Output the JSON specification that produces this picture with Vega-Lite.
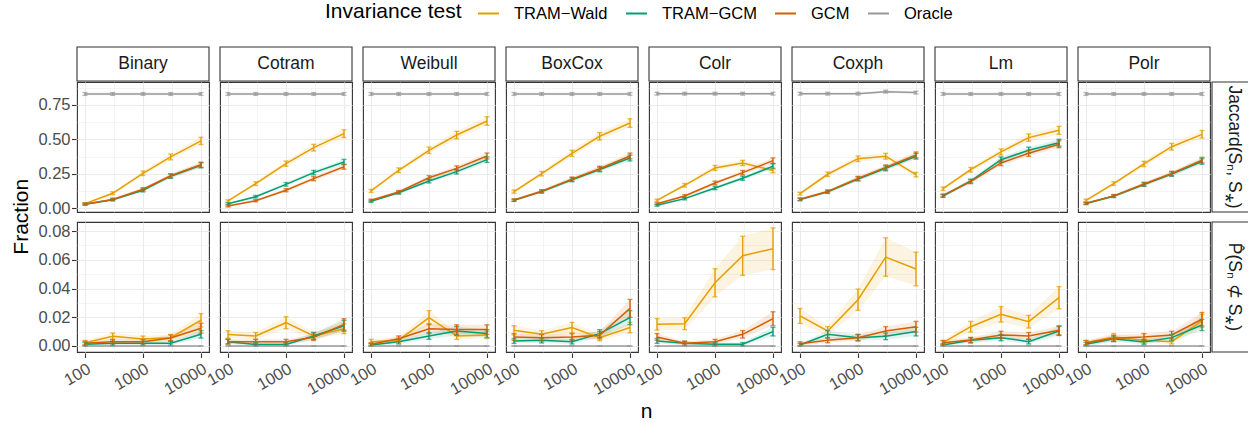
{
"$schema":"https://vega.github.io/schema/vega-lite/v6.json",
"background":"white",
"padding":{"left":10,"top":2,"right":4,"bottom":0},
"config":{
 "font":"Liberation Sans",
 "view":{"stroke":"#333333","strokeWidth":1.1},
 "axis":{"domain":false,"gridColor":"#EBEBEB","tickColor":"#333333","labelColor":"#4D4D4D","labelFont":"Liberation Sans","labelOverlap":false,"labelFlush":false,"tickSize":4.5,"tickWidth":1.1},
 "title":{"font":"Liberation Sans","fontWeight":"normal","color":"#000000"}
},
"datasets":{
"s":[{"m":"Binary"},{"m":"Cotram"},{"m":"Weibull"},{"m":"BoxCox"},{"m":"Colr"},{"m":"Coxph"},{"m":"Lm"},{"m":"Polr"}],
"d":[
{"m":"Binary","r":"J","t":"TRAM−Wald","n":100,"v":0.033,"lo":0.026,"hi":0.040},
{"m":"Binary","r":"J","t":"TRAM−Wald","n":300,"v":0.109,"lo":0.099,"hi":0.119},
{"m":"Binary","r":"J","t":"TRAM−Wald","n":1000,"v":0.254,"lo":0.238,"hi":0.270},
{"m":"Binary","r":"J","t":"TRAM−Wald","n":3000,"v":0.373,"lo":0.352,"hi":0.394},
{"m":"Binary","r":"J","t":"TRAM−Wald","n":10000,"v":0.489,"lo":0.463,"hi":0.515},
{"m":"Binary","r":"J","t":"TRAM−GCM","n":100,"v":0.030,"lo":0.023,"hi":0.037},
{"m":"Binary","r":"J","t":"TRAM−GCM","n":300,"v":0.062,"lo":0.054,"hi":0.071},
{"m":"Binary","r":"J","t":"TRAM−GCM","n":1000,"v":0.130,"lo":0.119,"hi":0.141},
{"m":"Binary","r":"J","t":"TRAM−GCM","n":3000,"v":0.233,"lo":0.218,"hi":0.248},
{"m":"Binary","r":"J","t":"TRAM−GCM","n":10000,"v":0.312,"lo":0.294,"hi":0.331},
{"m":"Binary","r":"J","t":"GCM","n":100,"v":0.030,"lo":0.023,"hi":0.037},
{"m":"Binary","r":"J","t":"GCM","n":300,"v":0.064,"lo":0.055,"hi":0.073},
{"m":"Binary","r":"J","t":"GCM","n":1000,"v":0.138,"lo":0.127,"hi":0.150},
{"m":"Binary","r":"J","t":"GCM","n":3000,"v":0.236,"lo":0.221,"hi":0.251},
{"m":"Binary","r":"J","t":"GCM","n":10000,"v":0.316,"lo":0.297,"hi":0.335},
{"m":"Binary","r":"J","t":"Oracle","n":100,"v":0.83,"lo":0.82,"hi":0.84},
{"m":"Binary","r":"J","t":"Oracle","n":300,"v":0.83,"lo":0.82,"hi":0.84},
{"m":"Binary","r":"J","t":"Oracle","n":1000,"v":0.83,"lo":0.82,"hi":0.84},
{"m":"Binary","r":"J","t":"Oracle","n":3000,"v":0.83,"lo":0.82,"hi":0.84},
{"m":"Binary","r":"J","t":"Oracle","n":10000,"v":0.83,"lo":0.82,"hi":0.84},
{"m":"Cotram","r":"J","t":"TRAM−Wald","n":100,"v":0.053,"lo":0.045,"hi":0.061},
{"m":"Cotram","r":"J","t":"TRAM−Wald","n":300,"v":0.179,"lo":0.166,"hi":0.192},
{"m":"Cotram","r":"J","t":"TRAM−Wald","n":1000,"v":0.324,"lo":0.305,"hi":0.343},
{"m":"Cotram","r":"J","t":"TRAM−Wald","n":3000,"v":0.440,"lo":0.416,"hi":0.464},
{"m":"Cotram","r":"J","t":"TRAM−Wald","n":10000,"v":0.542,"lo":0.514,"hi":0.570},
{"m":"Cotram","r":"J","t":"TRAM−GCM","n":100,"v":0.033,"lo":0.026,"hi":0.040},
{"m":"Cotram","r":"J","t":"TRAM−GCM","n":300,"v":0.084,"lo":0.075,"hi":0.093},
{"m":"Cotram","r":"J","t":"TRAM−GCM","n":1000,"v":0.174,"lo":0.161,"hi":0.187},
{"m":"Cotram","r":"J","t":"TRAM−GCM","n":3000,"v":0.259,"lo":0.243,"hi":0.275},
{"m":"Cotram","r":"J","t":"TRAM−GCM","n":10000,"v":0.336,"lo":0.317,"hi":0.355},
{"m":"Cotram","r":"J","t":"GCM","n":100,"v":0.017,"lo":0.010,"hi":0.024},
{"m":"Cotram","r":"J","t":"GCM","n":300,"v":0.055,"lo":0.047,"hi":0.063},
{"m":"Cotram","r":"J","t":"GCM","n":1000,"v":0.131,"lo":0.120,"hi":0.142},
{"m":"Cotram","r":"J","t":"GCM","n":3000,"v":0.215,"lo":0.200,"hi":0.230},
{"m":"Cotram","r":"J","t":"GCM","n":10000,"v":0.302,"lo":0.284,"hi":0.320},
{"m":"Cotram","r":"J","t":"Oracle","n":100,"v":0.83,"lo":0.82,"hi":0.84},
{"m":"Cotram","r":"J","t":"Oracle","n":300,"v":0.83,"lo":0.82,"hi":0.84},
{"m":"Cotram","r":"J","t":"Oracle","n":1000,"v":0.83,"lo":0.82,"hi":0.84},
{"m":"Cotram","r":"J","t":"Oracle","n":3000,"v":0.83,"lo":0.82,"hi":0.84},
{"m":"Cotram","r":"J","t":"Oracle","n":10000,"v":0.83,"lo":0.82,"hi":0.84},
{"m":"Weibull","r":"J","t":"TRAM−Wald","n":100,"v":0.126,"lo":0.115,"hi":0.137},
{"m":"Weibull","r":"J","t":"TRAM−Wald","n":300,"v":0.276,"lo":0.259,"hi":0.293},
{"m":"Weibull","r":"J","t":"TRAM−Wald","n":1000,"v":0.421,"lo":0.398,"hi":0.444},
{"m":"Weibull","r":"J","t":"TRAM−Wald","n":3000,"v":0.532,"lo":0.505,"hi":0.559},
{"m":"Weibull","r":"J","t":"TRAM−Wald","n":10000,"v":0.634,"lo":0.603,"hi":0.665},
{"m":"Weibull","r":"J","t":"TRAM−GCM","n":100,"v":0.051,"lo":0.043,"hi":0.059},
{"m":"Weibull","r":"J","t":"TRAM−GCM","n":300,"v":0.113,"lo":0.103,"hi":0.124},
{"m":"Weibull","r":"J","t":"TRAM−GCM","n":1000,"v":0.198,"lo":0.184,"hi":0.212},
{"m":"Weibull","r":"J","t":"TRAM−GCM","n":3000,"v":0.266,"lo":0.249,"hi":0.283},
{"m":"Weibull","r":"J","t":"TRAM−GCM","n":10000,"v":0.353,"lo":0.333,"hi":0.373},
{"m":"Weibull","r":"J","t":"GCM","n":100,"v":0.058,"lo":0.050,"hi":0.066},
{"m":"Weibull","r":"J","t":"GCM","n":300,"v":0.118,"lo":0.107,"hi":0.129},
{"m":"Weibull","r":"J","t":"GCM","n":1000,"v":0.222,"lo":0.207,"hi":0.237},
{"m":"Weibull","r":"J","t":"GCM","n":3000,"v":0.290,"lo":0.272,"hi":0.308},
{"m":"Weibull","r":"J","t":"GCM","n":10000,"v":0.380,"lo":0.359,"hi":0.401},
{"m":"Weibull","r":"J","t":"Oracle","n":100,"v":0.83,"lo":0.82,"hi":0.84},
{"m":"Weibull","r":"J","t":"Oracle","n":300,"v":0.83,"lo":0.82,"hi":0.84},
{"m":"Weibull","r":"J","t":"Oracle","n":1000,"v":0.83,"lo":0.82,"hi":0.84},
{"m":"Weibull","r":"J","t":"Oracle","n":3000,"v":0.83,"lo":0.82,"hi":0.84},
{"m":"Weibull","r":"J","t":"Oracle","n":10000,"v":0.83,"lo":0.82,"hi":0.84},
{"m":"BoxCox","r":"J","t":"TRAM−Wald","n":100,"v":0.121,"lo":0.110,"hi":0.132},
{"m":"BoxCox","r":"J","t":"TRAM−Wald","n":300,"v":0.251,"lo":0.235,"hi":0.267},
{"m":"BoxCox","r":"J","t":"TRAM−Wald","n":1000,"v":0.399,"lo":0.377,"hi":0.421},
{"m":"BoxCox","r":"J","t":"TRAM−Wald","n":3000,"v":0.523,"lo":0.496,"hi":0.550},
{"m":"BoxCox","r":"J","t":"TRAM−Wald","n":10000,"v":0.619,"lo":0.588,"hi":0.650},
{"m":"BoxCox","r":"J","t":"TRAM−GCM","n":100,"v":0.058,"lo":0.050,"hi":0.066},
{"m":"BoxCox","r":"J","t":"TRAM−GCM","n":300,"v":0.121,"lo":0.110,"hi":0.132},
{"m":"BoxCox","r":"J","t":"TRAM−GCM","n":1000,"v":0.207,"lo":0.193,"hi":0.221},
{"m":"BoxCox","r":"J","t":"TRAM−GCM","n":3000,"v":0.282,"lo":0.265,"hi":0.299},
{"m":"BoxCox","r":"J","t":"TRAM−GCM","n":10000,"v":0.365,"lo":0.344,"hi":0.386},
{"m":"BoxCox","r":"J","t":"GCM","n":100,"v":0.060,"lo":0.052,"hi":0.068},
{"m":"BoxCox","r":"J","t":"GCM","n":300,"v":0.124,"lo":0.113,"hi":0.135},
{"m":"BoxCox","r":"J","t":"GCM","n":1000,"v":0.212,"lo":0.198,"hi":0.227},
{"m":"BoxCox","r":"J","t":"GCM","n":3000,"v":0.287,"lo":0.270,"hi":0.305},
{"m":"BoxCox","r":"J","t":"GCM","n":10000,"v":0.380,"lo":0.359,"hi":0.401},
{"m":"BoxCox","r":"J","t":"Oracle","n":100,"v":0.83,"lo":0.82,"hi":0.84},
{"m":"BoxCox","r":"J","t":"Oracle","n":300,"v":0.83,"lo":0.82,"hi":0.84},
{"m":"BoxCox","r":"J","t":"Oracle","n":1000,"v":0.83,"lo":0.82,"hi":0.84},
{"m":"BoxCox","r":"J","t":"Oracle","n":3000,"v":0.83,"lo":0.82,"hi":0.84},
{"m":"BoxCox","r":"J","t":"Oracle","n":10000,"v":0.83,"lo":0.82,"hi":0.84},
{"m":"Colr","r":"J","t":"TRAM−Wald","n":100,"v":0.058,"lo":0.050,"hi":0.066},
{"m":"Colr","r":"J","t":"TRAM−Wald","n":300,"v":0.167,"lo":0.154,"hi":0.180},
{"m":"Colr","r":"J","t":"TRAM−Wald","n":1000,"v":0.293,"lo":0.275,"hi":0.311},
{"m":"Colr","r":"J","t":"TRAM−Wald","n":3000,"v":0.329,"lo":0.310,"hi":0.348},
{"m":"Colr","r":"J","t":"TRAM−Wald","n":10000,"v":0.275,"lo":0.258,"hi":0.292},
{"m":"Colr","r":"J","t":"TRAM−GCM","n":100,"v":0.022,"lo":0.015,"hi":0.029},
{"m":"Colr","r":"J","t":"TRAM−GCM","n":300,"v":0.070,"lo":0.061,"hi":0.079},
{"m":"Colr","r":"J","t":"TRAM−GCM","n":1000,"v":0.147,"lo":0.135,"hi":0.159},
{"m":"Colr","r":"J","t":"TRAM−GCM","n":3000,"v":0.218,"lo":0.203,"hi":0.233},
{"m":"Colr","r":"J","t":"TRAM−GCM","n":10000,"v":0.305,"lo":0.287,"hi":0.323},
{"m":"Colr","r":"J","t":"GCM","n":100,"v":0.033,"lo":0.026,"hi":0.040},
{"m":"Colr","r":"J","t":"GCM","n":300,"v":0.089,"lo":0.079,"hi":0.099},
{"m":"Colr","r":"J","t":"GCM","n":1000,"v":0.184,"lo":0.171,"hi":0.197},
{"m":"Colr","r":"J","t":"GCM","n":3000,"v":0.259,"lo":0.243,"hi":0.275},
{"m":"Colr","r":"J","t":"GCM","n":10000,"v":0.346,"lo":0.326,"hi":0.366},
{"m":"Colr","r":"J","t":"Oracle","n":100,"v":0.832,"lo":0.822,"hi":0.842},
{"m":"Colr","r":"J","t":"Oracle","n":300,"v":0.832,"lo":0.822,"hi":0.842},
{"m":"Colr","r":"J","t":"Oracle","n":1000,"v":0.832,"lo":0.822,"hi":0.842},
{"m":"Colr","r":"J","t":"Oracle","n":3000,"v":0.832,"lo":0.822,"hi":0.842},
{"m":"Colr","r":"J","t":"Oracle","n":10000,"v":0.832,"lo":0.822,"hi":0.842},
{"m":"Coxph","r":"J","t":"TRAM−Wald","n":100,"v":0.106,"lo":0.096,"hi":0.116},
{"m":"Coxph","r":"J","t":"TRAM−Wald","n":300,"v":0.247,"lo":0.231,"hi":0.263},
{"m":"Coxph","r":"J","t":"TRAM−Wald","n":1000,"v":0.360,"lo":0.340,"hi":0.380},
{"m":"Coxph","r":"J","t":"TRAM−Wald","n":3000,"v":0.378,"lo":0.357,"hi":0.399},
{"m":"Coxph","r":"J","t":"TRAM−Wald","n":10000,"v":0.244,"lo":0.228,"hi":0.260},
{"m":"Coxph","r":"J","t":"TRAM−GCM","n":100,"v":0.063,"lo":0.055,"hi":0.072},
{"m":"Coxph","r":"J","t":"TRAM−GCM","n":300,"v":0.119,"lo":0.108,"hi":0.130},
{"m":"Coxph","r":"J","t":"TRAM−GCM","n":1000,"v":0.213,"lo":0.199,"hi":0.228},
{"m":"Coxph","r":"J","t":"TRAM−GCM","n":3000,"v":0.290,"lo":0.272,"hi":0.308},
{"m":"Coxph","r":"J","t":"TRAM−GCM","n":10000,"v":0.378,"lo":0.357,"hi":0.399},
{"m":"Coxph","r":"J","t":"GCM","n":100,"v":0.066,"lo":0.057,"hi":0.075},
{"m":"Coxph","r":"J","t":"GCM","n":300,"v":0.122,"lo":0.111,"hi":0.133},
{"m":"Coxph","r":"J","t":"GCM","n":1000,"v":0.217,"lo":0.202,"hi":0.232},
{"m":"Coxph","r":"J","t":"GCM","n":3000,"v":0.297,"lo":0.279,"hi":0.315},
{"m":"Coxph","r":"J","t":"GCM","n":10000,"v":0.387,"lo":0.366,"hi":0.409},
{"m":"Coxph","r":"J","t":"Oracle","n":100,"v":0.832,"lo":0.822,"hi":0.842},
{"m":"Coxph","r":"J","t":"Oracle","n":300,"v":0.832,"lo":0.822,"hi":0.842},
{"m":"Coxph","r":"J","t":"Oracle","n":1000,"v":0.832,"lo":0.822,"hi":0.842},
{"m":"Coxph","r":"J","t":"Oracle","n":3000,"v":0.847,"lo":0.837,"hi":0.857},
{"m":"Coxph","r":"J","t":"Oracle","n":10000,"v":0.840,"lo":0.830,"hi":0.850},
{"m":"Lm","r":"J","t":"TRAM−Wald","n":100,"v":0.142,"lo":0.130,"hi":0.154},
{"m":"Lm","r":"J","t":"TRAM−Wald","n":300,"v":0.280,"lo":0.263,"hi":0.297},
{"m":"Lm","r":"J","t":"TRAM−Wald","n":1000,"v":0.409,"lo":0.387,"hi":0.431},
{"m":"Lm","r":"J","t":"TRAM−Wald","n":3000,"v":0.513,"lo":0.487,"hi":0.540},
{"m":"Lm","r":"J","t":"TRAM−Wald","n":10000,"v":0.566,"lo":0.537,"hi":0.595},
{"m":"Lm","r":"J","t":"TRAM−GCM","n":100,"v":0.089,"lo":0.079,"hi":0.099},
{"m":"Lm","r":"J","t":"TRAM−GCM","n":300,"v":0.198,"lo":0.184,"hi":0.212},
{"m":"Lm","r":"J","t":"TRAM−GCM","n":1000,"v":0.353,"lo":0.333,"hi":0.373},
{"m":"Lm","r":"J","t":"TRAM−GCM","n":3000,"v":0.421,"lo":0.398,"hi":0.444},
{"m":"Lm","r":"J","t":"TRAM−GCM","n":10000,"v":0.476,"lo":0.451,"hi":0.501},
{"m":"Lm","r":"J","t":"GCM","n":100,"v":0.094,"lo":0.084,"hi":0.104},
{"m":"Lm","r":"J","t":"GCM","n":300,"v":0.193,"lo":0.179,"hi":0.207},
{"m":"Lm","r":"J","t":"GCM","n":1000,"v":0.329,"lo":0.310,"hi":0.348},
{"m":"Lm","r":"J","t":"GCM","n":3000,"v":0.399,"lo":0.377,"hi":0.421},
{"m":"Lm","r":"J","t":"GCM","n":10000,"v":0.465,"lo":0.440,"hi":0.490},
{"m":"Lm","r":"J","t":"Oracle","n":100,"v":0.83,"lo":0.82,"hi":0.84},
{"m":"Lm","r":"J","t":"Oracle","n":300,"v":0.83,"lo":0.82,"hi":0.84},
{"m":"Lm","r":"J","t":"Oracle","n":1000,"v":0.83,"lo":0.82,"hi":0.84},
{"m":"Lm","r":"J","t":"Oracle","n":3000,"v":0.83,"lo":0.82,"hi":0.84},
{"m":"Lm","r":"J","t":"Oracle","n":10000,"v":0.83,"lo":0.82,"hi":0.84},
{"m":"Polr","r":"J","t":"TRAM−Wald","n":100,"v":0.058,"lo":0.050,"hi":0.066},
{"m":"Polr","r":"J","t":"TRAM−Wald","n":300,"v":0.179,"lo":0.166,"hi":0.192},
{"m":"Polr","r":"J","t":"TRAM−Wald","n":1000,"v":0.322,"lo":0.303,"hi":0.341},
{"m":"Polr","r":"J","t":"TRAM−Wald","n":3000,"v":0.447,"lo":0.423,"hi":0.471},
{"m":"Polr","r":"J","t":"TRAM−Wald","n":10000,"v":0.537,"lo":0.510,"hi":0.565},
{"m":"Polr","r":"J","t":"TRAM−GCM","n":100,"v":0.034,"lo":0.027,"hi":0.041},
{"m":"Polr","r":"J","t":"TRAM−GCM","n":300,"v":0.087,"lo":0.078,"hi":0.097},
{"m":"Polr","r":"J","t":"TRAM−GCM","n":1000,"v":0.172,"lo":0.159,"hi":0.185},
{"m":"Polr","r":"J","t":"TRAM−GCM","n":3000,"v":0.248,"lo":0.232,"hi":0.264},
{"m":"Polr","r":"J","t":"TRAM−GCM","n":10000,"v":0.340,"lo":0.320,"hi":0.360},
{"m":"Polr","r":"J","t":"GCM","n":100,"v":0.036,"lo":0.029,"hi":0.043},
{"m":"Polr","r":"J","t":"GCM","n":300,"v":0.090,"lo":0.080,"hi":0.100},
{"m":"Polr","r":"J","t":"GCM","n":1000,"v":0.176,"lo":0.163,"hi":0.189},
{"m":"Polr","r":"J","t":"GCM","n":3000,"v":0.253,"lo":0.237,"hi":0.269},
{"m":"Polr","r":"J","t":"GCM","n":10000,"v":0.350,"lo":0.330,"hi":0.370},
{"m":"Polr","r":"J","t":"Oracle","n":100,"v":0.83,"lo":0.82,"hi":0.84},
{"m":"Polr","r":"J","t":"Oracle","n":300,"v":0.83,"lo":0.82,"hi":0.84},
{"m":"Polr","r":"J","t":"Oracle","n":1000,"v":0.83,"lo":0.82,"hi":0.84},
{"m":"Polr","r":"J","t":"Oracle","n":3000,"v":0.83,"lo":0.82,"hi":0.84},
{"m":"Polr","r":"J","t":"Oracle","n":10000,"v":0.83,"lo":0.82,"hi":0.84},
{"m":"Binary","r":"P","t":"TRAM−Wald","n":100,"v":0.0023,"lo":0.0008,"hi":0.0038},
{"m":"Binary","r":"P","t":"TRAM−Wald","n":300,"v":0.0067,"lo":0.0044,"hi":0.0090},
{"m":"Binary","r":"P","t":"TRAM−Wald","n":1000,"v":0.0049,"lo":0.0029,"hi":0.0069},
{"m":"Binary","r":"P","t":"TRAM−Wald","n":3000,"v":0.0058,"lo":0.0036,"hi":0.0080},
{"m":"Binary","r":"P","t":"TRAM−Wald","n":10000,"v":0.0179,"lo":0.0133,"hi":0.0225},
{"m":"Binary","r":"P","t":"TRAM−GCM","n":100,"v":0.0012,"lo":0.0000,"hi":0.0024},
{"m":"Binary","r":"P","t":"TRAM−GCM","n":300,"v":0.0019,"lo":0.0005,"hi":0.0033},
{"m":"Binary","r":"P","t":"TRAM−GCM","n":1000,"v":0.0019,"lo":0.0005,"hi":0.0033},
{"m":"Binary","r":"P","t":"TRAM−GCM","n":3000,"v":0.0019,"lo":0.0005,"hi":0.0033},
{"m":"Binary","r":"P","t":"TRAM−GCM","n":10000,"v":0.0081,"lo":0.0055,"hi":0.0107},
{"m":"Binary","r":"P","t":"GCM","n":100,"v":0.0019,"lo":0.0005,"hi":0.0033},
{"m":"Binary","r":"P","t":"GCM","n":300,"v":0.0030,"lo":0.0014,"hi":0.0046},
{"m":"Binary","r":"P","t":"GCM","n":1000,"v":0.0030,"lo":0.0014,"hi":0.0046},
{"m":"Binary","r":"P","t":"GCM","n":3000,"v":0.0056,"lo":0.0035,"hi":0.0077},
{"m":"Binary","r":"P","t":"GCM","n":10000,"v":0.0123,"lo":0.0088,"hi":0.0158},
{"m":"Binary","r":"P","t":"Oracle","n":100,"v":0,"lo":0,"hi":0},
{"m":"Binary","r":"P","t":"Oracle","n":300,"v":0,"lo":0,"hi":0},
{"m":"Binary","r":"P","t":"Oracle","n":1000,"v":0,"lo":0,"hi":0},
{"m":"Binary","r":"P","t":"Oracle","n":3000,"v":0,"lo":0,"hi":0},
{"m":"Binary","r":"P","t":"Oracle","n":10000,"v":0,"lo":0,"hi":0},
{"m":"Cotram","r":"P","t":"TRAM−Wald","n":100,"v":0.0080,"lo":0.0054,"hi":0.0106},
{"m":"Cotram","r":"P","t":"TRAM−Wald","n":300,"v":0.0070,"lo":0.0046,"hi":0.0094},
{"m":"Cotram","r":"P","t":"TRAM−Wald","n":1000,"v":0.0162,"lo":0.0120,"hi":0.0204},
{"m":"Cotram","r":"P","t":"TRAM−Wald","n":3000,"v":0.0070,"lo":0.0046,"hi":0.0094},
{"m":"Cotram","r":"P","t":"TRAM−Wald","n":10000,"v":0.0120,"lo":0.0086,"hi":0.0154},
{"m":"Cotram","r":"P","t":"TRAM−GCM","n":100,"v":0.0030,"lo":0.0014,"hi":0.0046},
{"m":"Cotram","r":"P","t":"TRAM−GCM","n":300,"v":0.0010,"lo":0.0000,"hi":0.0022},
{"m":"Cotram","r":"P","t":"TRAM−GCM","n":1000,"v":0.0010,"lo":0.0000,"hi":0.0022},
{"m":"Cotram","r":"P","t":"TRAM−GCM","n":3000,"v":0.0070,"lo":0.0046,"hi":0.0094},
{"m":"Cotram","r":"P","t":"TRAM−GCM","n":10000,"v":0.0140,"lo":0.0102,"hi":0.0178},
{"m":"Cotram","r":"P","t":"GCM","n":100,"v":0.0030,"lo":0.0014,"hi":0.0046},
{"m":"Cotram","r":"P","t":"GCM","n":300,"v":0.0030,"lo":0.0014,"hi":0.0046},
{"m":"Cotram","r":"P","t":"GCM","n":1000,"v":0.0030,"lo":0.0014,"hi":0.0046},
{"m":"Cotram","r":"P","t":"GCM","n":3000,"v":0.0060,"lo":0.0038,"hi":0.0082},
{"m":"Cotram","r":"P","t":"GCM","n":10000,"v":0.0150,"lo":0.0110,"hi":0.0190},
{"m":"Cotram","r":"P","t":"Oracle","n":100,"v":0,"lo":0,"hi":0},
{"m":"Cotram","r":"P","t":"Oracle","n":300,"v":0,"lo":0,"hi":0},
{"m":"Cotram","r":"P","t":"Oracle","n":1000,"v":0,"lo":0,"hi":0},
{"m":"Cotram","r":"P","t":"Oracle","n":3000,"v":0,"lo":0,"hi":0},
{"m":"Cotram","r":"P","t":"Oracle","n":10000,"v":0,"lo":0,"hi":0},
{"m":"Weibull","r":"P","t":"TRAM−Wald","n":100,"v":0.0030,"lo":0.0014,"hi":0.0046},
{"m":"Weibull","r":"P","t":"TRAM−Wald","n":300,"v":0.0040,"lo":0.0022,"hi":0.0058},
{"m":"Weibull","r":"P","t":"TRAM−Wald","n":1000,"v":0.0197,"lo":0.0148,"hi":0.0246},
{"m":"Weibull","r":"P","t":"TRAM−Wald","n":3000,"v":0.0070,"lo":0.0046,"hi":0.0094},
{"m":"Weibull","r":"P","t":"TRAM−Wald","n":10000,"v":0.0077,"lo":0.0052,"hi":0.0102},
{"m":"Weibull","r":"P","t":"TRAM−GCM","n":100,"v":0.0006,"lo":0.0000,"hi":0.0017},
{"m":"Weibull","r":"P","t":"TRAM−GCM","n":300,"v":0.0030,"lo":0.0014,"hi":0.0046},
{"m":"Weibull","r":"P","t":"TRAM−GCM","n":1000,"v":0.0070,"lo":0.0046,"hi":0.0094},
{"m":"Weibull","r":"P","t":"TRAM−GCM","n":3000,"v":0.0104,"lo":0.0073,"hi":0.0135},
{"m":"Weibull","r":"P","t":"TRAM−GCM","n":10000,"v":0.0086,"lo":0.0059,"hi":0.0113},
{"m":"Weibull","r":"P","t":"GCM","n":100,"v":0.0012,"lo":0.0000,"hi":0.0024},
{"m":"Weibull","r":"P","t":"GCM","n":300,"v":0.0050,"lo":0.0030,"hi":0.0070},
{"m":"Weibull","r":"P","t":"GCM","n":1000,"v":0.0120,"lo":0.0086,"hi":0.0154},
{"m":"Weibull","r":"P","t":"GCM","n":3000,"v":0.0114,"lo":0.0081,"hi":0.0147},
{"m":"Weibull","r":"P","t":"GCM","n":10000,"v":0.0114,"lo":0.0081,"hi":0.0147},
{"m":"Weibull","r":"P","t":"Oracle","n":100,"v":0,"lo":0,"hi":0},
{"m":"Weibull","r":"P","t":"Oracle","n":300,"v":0,"lo":0,"hi":0},
{"m":"Weibull","r":"P","t":"Oracle","n":1000,"v":0,"lo":0,"hi":0},
{"m":"Weibull","r":"P","t":"Oracle","n":3000,"v":0,"lo":0,"hi":0},
{"m":"Weibull","r":"P","t":"Oracle","n":10000,"v":0,"lo":0,"hi":0},
{"m":"BoxCox","r":"P","t":"TRAM−Wald","n":100,"v":0.0109,"lo":0.0077,"hi":0.0141},
{"m":"BoxCox","r":"P","t":"TRAM−Wald","n":300,"v":0.0081,"lo":0.0055,"hi":0.0107},
{"m":"BoxCox","r":"P","t":"TRAM−Wald","n":1000,"v":0.0128,"lo":0.0092,"hi":0.0164},
{"m":"BoxCox","r":"P","t":"TRAM−Wald","n":3000,"v":0.0058,"lo":0.0036,"hi":0.0080},
{"m":"BoxCox","r":"P","t":"TRAM−Wald","n":10000,"v":0.0128,"lo":0.0092,"hi":0.0164},
{"m":"BoxCox","r":"P","t":"TRAM−GCM","n":100,"v":0.0035,"lo":0.0018,"hi":0.0052},
{"m":"BoxCox","r":"P","t":"TRAM−GCM","n":300,"v":0.0039,"lo":0.0021,"hi":0.0057},
{"m":"BoxCox","r":"P","t":"TRAM−GCM","n":1000,"v":0.0030,"lo":0.0014,"hi":0.0046},
{"m":"BoxCox","r":"P","t":"TRAM−GCM","n":3000,"v":0.0086,"lo":0.0059,"hi":0.0113},
{"m":"BoxCox","r":"P","t":"TRAM−GCM","n":10000,"v":0.0197,"lo":0.0148,"hi":0.0246},
{"m":"BoxCox","r":"P","t":"GCM","n":100,"v":0.0063,"lo":0.0040,"hi":0.0086},
{"m":"BoxCox","r":"P","t":"GCM","n":300,"v":0.0058,"lo":0.0036,"hi":0.0080},
{"m":"BoxCox","r":"P","t":"GCM","n":1000,"v":0.0063,"lo":0.0040,"hi":0.0086},
{"m":"BoxCox","r":"P","t":"GCM","n":3000,"v":0.0074,"lo":0.0049,"hi":0.0099},
{"m":"BoxCox","r":"P","t":"GCM","n":10000,"v":0.0262,"lo":0.0200,"hi":0.0324},
{"m":"BoxCox","r":"P","t":"Oracle","n":100,"v":0,"lo":0,"hi":0},
{"m":"BoxCox","r":"P","t":"Oracle","n":300,"v":0,"lo":0,"hi":0},
{"m":"BoxCox","r":"P","t":"Oracle","n":1000,"v":0,"lo":0,"hi":0},
{"m":"BoxCox","r":"P","t":"Oracle","n":3000,"v":0,"lo":0,"hi":0},
{"m":"BoxCox","r":"P","t":"Oracle","n":10000,"v":0,"lo":0,"hi":0},
{"m":"Colr","r":"P","t":"TRAM−Wald","n":100,"v":0.0151,"lo":0.0111,"hi":0.0191},
{"m":"Colr","r":"P","t":"TRAM−Wald","n":300,"v":0.0155,"lo":0.0114,"hi":0.0196},
{"m":"Colr","r":"P","t":"TRAM−Wald","n":1000,"v":0.0440,"lo":0.0342,"hi":0.0538},
{"m":"Colr","r":"P","t":"TRAM−Wald","n":3000,"v":0.0628,"lo":0.0492,"hi":0.0764},
{"m":"Colr","r":"P","t":"TRAM−Wald","n":10000,"v":0.0677,"lo":0.0532,"hi":0.0822},
{"m":"Colr","r":"P","t":"TRAM−GCM","n":100,"v":0.0035,"lo":0.0018,"hi":0.0052},
{"m":"Colr","r":"P","t":"TRAM−GCM","n":300,"v":0.0019,"lo":0.0005,"hi":0.0033},
{"m":"Colr","r":"P","t":"TRAM−GCM","n":1000,"v":0.0012,"lo":0.0000,"hi":0.0024},
{"m":"Colr","r":"P","t":"TRAM−GCM","n":3000,"v":0.0012,"lo":0.0000,"hi":0.0024},
{"m":"Colr","r":"P","t":"TRAM−GCM","n":10000,"v":0.0100,"lo":0.0070,"hi":0.0130},
{"m":"Colr","r":"P","t":"GCM","n":100,"v":0.0063,"lo":0.0040,"hi":0.0086},
{"m":"Colr","r":"P","t":"GCM","n":300,"v":0.0019,"lo":0.0005,"hi":0.0033},
{"m":"Colr","r":"P","t":"GCM","n":1000,"v":0.0030,"lo":0.0014,"hi":0.0046},
{"m":"Colr","r":"P","t":"GCM","n":3000,"v":0.0081,"lo":0.0055,"hi":0.0107},
{"m":"Colr","r":"P","t":"GCM","n":10000,"v":0.0190,"lo":0.0142,"hi":0.0238},
{"m":"Colr","r":"P","t":"Oracle","n":100,"v":0,"lo":0,"hi":0},
{"m":"Colr","r":"P","t":"Oracle","n":300,"v":0,"lo":0,"hi":0},
{"m":"Colr","r":"P","t":"Oracle","n":1000,"v":0,"lo":0,"hi":0},
{"m":"Colr","r":"P","t":"Oracle","n":3000,"v":0,"lo":0,"hi":0},
{"m":"Colr","r":"P","t":"Oracle","n":10000,"v":0,"lo":0,"hi":0},
{"m":"Coxph","r":"P","t":"TRAM−Wald","n":100,"v":0.0209,"lo":0.0157,"hi":0.0261},
{"m":"Coxph","r":"P","t":"TRAM−Wald","n":300,"v":0.0104,"lo":0.0073,"hi":0.0135},
{"m":"Coxph","r":"P","t":"TRAM−Wald","n":1000,"v":0.0322,"lo":0.0248,"hi":0.0396},
{"m":"Coxph","r":"P","t":"TRAM−Wald","n":3000,"v":0.0619,"lo":0.0485,"hi":0.0753},
{"m":"Coxph","r":"P","t":"TRAM−Wald","n":10000,"v":0.0536,"lo":0.0419,"hi":0.0653},
{"m":"Coxph","r":"P","t":"TRAM−GCM","n":100,"v":0.0007,"lo":0.0000,"hi":0.0018},
{"m":"Coxph","r":"P","t":"TRAM−GCM","n":300,"v":0.0081,"lo":0.0055,"hi":0.0107},
{"m":"Coxph","r":"P","t":"TRAM−GCM","n":1000,"v":0.0058,"lo":0.0036,"hi":0.0080},
{"m":"Coxph","r":"P","t":"TRAM−GCM","n":3000,"v":0.0067,"lo":0.0044,"hi":0.0090},
{"m":"Coxph","r":"P","t":"TRAM−GCM","n":10000,"v":0.0100,"lo":0.0070,"hi":0.0130},
{"m":"Coxph","r":"P","t":"GCM","n":100,"v":0.0016,"lo":0.0003,"hi":0.0029},
{"m":"Coxph","r":"P","t":"GCM","n":300,"v":0.0040,"lo":0.0022,"hi":0.0058},
{"m":"Coxph","r":"P","t":"GCM","n":1000,"v":0.0058,"lo":0.0036,"hi":0.0080},
{"m":"Coxph","r":"P","t":"GCM","n":3000,"v":0.0104,"lo":0.0073,"hi":0.0135},
{"m":"Coxph","r":"P","t":"GCM","n":10000,"v":0.0134,"lo":0.0097,"hi":0.0171},
{"m":"Coxph","r":"P","t":"Oracle","n":100,"v":0,"lo":0,"hi":0},
{"m":"Coxph","r":"P","t":"Oracle","n":300,"v":0,"lo":0,"hi":0},
{"m":"Coxph","r":"P","t":"Oracle","n":1000,"v":0,"lo":0,"hi":0},
{"m":"Coxph","r":"P","t":"Oracle","n":3000,"v":0,"lo":0,"hi":0},
{"m":"Coxph","r":"P","t":"Oracle","n":10000,"v":0,"lo":0,"hi":0},
{"m":"Lm","r":"P","t":"TRAM−Wald","n":100,"v":0.0023,"lo":0.0008,"hi":0.0038},
{"m":"Lm","r":"P","t":"TRAM−Wald","n":300,"v":0.0134,"lo":0.0097,"hi":0.0171},
{"m":"Lm","r":"P","t":"TRAM−Wald","n":1000,"v":0.0220,"lo":0.0166,"hi":0.0274},
{"m":"Lm","r":"P","t":"TRAM−Wald","n":3000,"v":0.0169,"lo":0.0125,"hi":0.0213},
{"m":"Lm","r":"P","t":"TRAM−Wald","n":10000,"v":0.0336,"lo":0.0259,"hi":0.0413},
{"m":"Lm","r":"P","t":"TRAM−GCM","n":100,"v":0.0007,"lo":0.0000,"hi":0.0018},
{"m":"Lm","r":"P","t":"TRAM−GCM","n":300,"v":0.0039,"lo":0.0021,"hi":0.0057},
{"m":"Lm","r":"P","t":"TRAM−GCM","n":1000,"v":0.0058,"lo":0.0036,"hi":0.0080},
{"m":"Lm","r":"P","t":"TRAM−GCM","n":3000,"v":0.0030,"lo":0.0014,"hi":0.0046},
{"m":"Lm","r":"P","t":"TRAM−GCM","n":10000,"v":0.0104,"lo":0.0073,"hi":0.0135},
{"m":"Lm","r":"P","t":"GCM","n":100,"v":0.0023,"lo":0.0008,"hi":0.0038},
{"m":"Lm","r":"P","t":"GCM","n":300,"v":0.0042,"lo":0.0024,"hi":0.0060},
{"m":"Lm","r":"P","t":"GCM","n":1000,"v":0.0077,"lo":0.0052,"hi":0.0102},
{"m":"Lm","r":"P","t":"GCM","n":3000,"v":0.0070,"lo":0.0046,"hi":0.0094},
{"m":"Lm","r":"P","t":"GCM","n":10000,"v":0.0109,"lo":0.0077,"hi":0.0141},
{"m":"Lm","r":"P","t":"Oracle","n":100,"v":0,"lo":0,"hi":0},
{"m":"Lm","r":"P","t":"Oracle","n":300,"v":0,"lo":0,"hi":0},
{"m":"Lm","r":"P","t":"Oracle","n":1000,"v":0,"lo":0,"hi":0},
{"m":"Lm","r":"P","t":"Oracle","n":3000,"v":0,"lo":0,"hi":0},
{"m":"Lm","r":"P","t":"Oracle","n":10000,"v":0,"lo":0,"hi":0},
{"m":"Polr","r":"P","t":"TRAM−Wald","n":100,"v":0.0023,"lo":0.0008,"hi":0.0038},
{"m":"Polr","r":"P","t":"TRAM−Wald","n":300,"v":0.0063,"lo":0.0040,"hi":0.0086},
{"m":"Polr","r":"P","t":"TRAM−Wald","n":1000,"v":0.0039,"lo":0.0021,"hi":0.0057},
{"m":"Polr","r":"P","t":"TRAM−Wald","n":3000,"v":0.0030,"lo":0.0014,"hi":0.0046},
{"m":"Polr","r":"P","t":"TRAM−Wald","n":10000,"v":0.0174,"lo":0.0129,"hi":0.0219},
{"m":"Polr","r":"P","t":"TRAM−GCM","n":100,"v":0.0012,"lo":0.0000,"hi":0.0024},
{"m":"Polr","r":"P","t":"TRAM−GCM","n":300,"v":0.0050,"lo":0.0030,"hi":0.0070},
{"m":"Polr","r":"P","t":"TRAM−GCM","n":1000,"v":0.0028,"lo":0.0012,"hi":0.0044},
{"m":"Polr","r":"P","t":"TRAM−GCM","n":3000,"v":0.0058,"lo":0.0036,"hi":0.0080},
{"m":"Polr","r":"P","t":"TRAM−GCM","n":10000,"v":0.0146,"lo":0.0107,"hi":0.0185},
{"m":"Polr","r":"P","t":"GCM","n":100,"v":0.0023,"lo":0.0008,"hi":0.0038},
{"m":"Polr","r":"P","t":"GCM","n":300,"v":0.0053,"lo":0.0032,"hi":0.0074},
{"m":"Polr","r":"P","t":"GCM","n":1000,"v":0.0063,"lo":0.0040,"hi":0.0086},
{"m":"Polr","r":"P","t":"GCM","n":3000,"v":0.0077,"lo":0.0052,"hi":0.0102},
{"m":"Polr","r":"P","t":"GCM","n":10000,"v":0.0186,"lo":0.0139,"hi":0.0233},
{"m":"Polr","r":"P","t":"Oracle","n":100,"v":0,"lo":0,"hi":0},
{"m":"Polr","r":"P","t":"Oracle","n":300,"v":0,"lo":0,"hi":0},
{"m":"Polr","r":"P","t":"Oracle","n":1000,"v":0,"lo":0,"hi":0},
{"m":"Polr","r":"P","t":"Oracle","n":3000,"v":0,"lo":0,"hi":0},
{"m":"Polr","r":"P","t":"Oracle","n":10000,"v":0,"lo":0,"hi":0}
]},
"spacing":-3,
"vconcat":[
 {"data":{"name":"s"},
  "facet":{"column":{"field":"m","type":"nominal","sort":["Binary","Cotram","Weibull","BoxCox","Colr","Coxph","Lm","Polr"],"header":null}},
  "spacing":9,
  "spec":{"width":132,"height":34,
   "layer":[
    {"mark":{"type":"rect","fill":"white","stroke":"#333333","strokeWidth":1.1},"encoding":{}},
    {"mark":{"type":"text","fontSize":17.5,"color":"#1A1A1A","font":"Liberation Sans"},"encoding":{"text":{"field":"m","type":"nominal"}}}
   ]}},
 {"title":{"text":"Fraction","orient":"left","anchor":"middle","fontSize":21,"offset":6,"dx":34},
  "spacing":4,
  "vconcat":[
   {"spacing":0,
    "hconcat":[
     {"data":{"name":"d"},"transform":[{"filter":"datum.r == 'J'"}],
      "facet":{"column":{"field":"m","type":"nominal","sort":["Binary","Cotram","Weibull","BoxCox","Colr","Coxph","Lm","Polr"],"header":null}},
      "spacing":9,
      "spec":{"width":132,"height":130,
       "encoding":{
        "x":{"field":"n","type":"quantitative","title":null,"scale":{"type":"log","domain":[72.8,13740],"nice":false},
             "axis":{"values":[100,316.2,1000,3162,10000],"tickCount":20,"labels":false,"ticks":false,"labelOverlap":false,"minExtent":0,"maxExtent":0,"offset":0,"gridWidth":{"condition":{"test":"datum.value==100||datum.value==1000||datum.value==10000","value":1.1},"value":0.55}}},
        "color":{"field":"t","type":"nominal","title":"Invariance test","scale":{"domain":["TRAM−Wald","TRAM−GCM","GCM","Oracle"],"range":["#E69F00","#009E73","#D55E00","#999999"]},
             "legend":{"orient":"none","legendX":248,"legendY":-45,"direction":"horizontal","titleOrient":"left","titleFontSize":21,"titleFontWeight":"normal","titleColor":"#000000","titleFont":"Liberation Sans","labelFontSize":16.5,"labelColor":"#000000","labelFont":"Liberation Sans","symbolType":"stroke","symbolSize":441,"symbolStrokeWidth":2,"symbolOpacity":1,"labelOffset":14,"columnPadding":14,"titlePadding":15,"padding":0,
               "encode":{"symbols":{"update":{"stroke":{"scale":"color","field":"value"},"strokeWidth":{"value":2},"opacity":{"value":1}}}}}}
       },
       "layer":[
        {"mark":{"type":"area","opacity":0.12},"encoding":{"y":{"field":"lo","type":"quantitative","title":null,"stack":null,"scale":{"domain":[-0.027,0.917],"nice":false,"zero":false},
            "axis":{"values":[0,0.125,0.25,0.375,0.5,0.625,0.75,0.875],"tickCount":20,"labelOverlap":false,"labelExpr":"round(datum.value*1000)%250==0 ? format(datum.value,'.2f') : ''","labelPadding":1.5,"labelFontSize":16.5,
              "gridWidth":{"condition":{"test":"round(datum.value*1000)%250==0","value":1.1},"value":0.55},
              "tickOpacity":{"condition":{"test":"round(datum.value*1000)%250==0","value":1},"value":0}}},
            "y2":{"field":"hi"}}},
        {"mark":{"type":"line","strokeWidth":1.5},"encoding":{"y":{"field":"v","type":"quantitative","title":null}}},
        {"mark":{"type":"errorbar","ticks":{"size":5},"thickness":1.4},"encoding":{"y":{"field":"lo","type":"quantitative","title":null},"y2":{"field":"hi"}}}
       ]}},
     {"width":43,"height":130,"data":{"values":[{"lab":"Jaccard(Sₙ, S⁎)"}]},
      "layer":[
       {"mark":{"type":"rect","fill":"white","stroke":"#333333","strokeWidth":1.1},"encoding":{}},
       {"mark":{"type":"text","angle":90,"fontSize":17.5,"color":"#1A1A1A","font":"Liberation Sans"},"encoding":{"text":{"field":"lab","type":"nominal"}}}
      ]}
    ]},
   {"spacing":0,
    "title":{"text":"n","orient":"bottom","anchor":"middle","fontSize":21,"offset":3},
    "hconcat":[
     {"data":{"name":"d"},"transform":[{"filter":"datum.r == 'P'"}],
      "facet":{"column":{"field":"m","type":"nominal","sort":["Binary","Cotram","Weibull","BoxCox","Colr","Coxph","Lm","Polr"],"header":null}},
      "spacing":9,
      "spec":{"width":132,"height":130,
       "encoding":{
        "x":{"field":"n","type":"quantitative","title":null,"scale":{"type":"log","domain":[72.8,13740],"nice":false},
             "axis":{"values":[100,316.2,1000,3162,10000],"tickCount":20,"labelOverlap":false,"labelExpr":"(datum.value==100||datum.value==1000||datum.value==10000) ? ''+datum.value : ''","labelAngle":-30,"labelAlign":"right","labelBaseline":"top","labelPadding":3,"labelFontSize":16.5,
               "gridWidth":{"condition":{"test":"datum.value==100||datum.value==1000||datum.value==10000","value":1.1},"value":0.55},
               "tickOpacity":{"condition":{"test":"datum.value==100||datum.value==1000||datum.value==10000","value":1},"value":0}}},
        "color":{"field":"t","type":"nominal","title":"Invariance test","scale":{"domain":["TRAM−Wald","TRAM−GCM","GCM","Oracle"],"range":["#E69F00","#009E73","#D55E00","#999999"]},
             "legend":{"orient":"none","legendX":248,"legendY":-45,"direction":"horizontal","titleOrient":"left","titleFontSize":21,"titleFontWeight":"normal","titleColor":"#000000","titleFont":"Liberation Sans","labelFontSize":16.5,"labelColor":"#000000","labelFont":"Liberation Sans","symbolType":"stroke","symbolSize":441,"symbolStrokeWidth":2,"symbolOpacity":1,"labelOffset":14,"columnPadding":14,"titlePadding":15,"padding":0,
               "encode":{"symbols":{"update":{"stroke":{"scale":"color","field":"value"},"strokeWidth":{"value":2},"opacity":{"value":1}}}}}}
       },
       "layer":[
        {"mark":{"type":"area","opacity":0.12},"encoding":{"y":{"field":"lo","type":"quantitative","title":null,"stack":null,"scale":{"domain":[-0.0042,0.0863],"nice":false,"zero":false},
            "axis":{"values":[0,0.01,0.02,0.03,0.04,0.05,0.06,0.07,0.08],"tickCount":20,"labelOverlap":false,"labelExpr":"round(datum.value*1000)%20==0 ? format(datum.value,'.2f') : ''","labelPadding":1.5,"labelFontSize":16.5,
              "gridWidth":{"condition":{"test":"round(datum.value*1000)%20==0","value":1.1},"value":0.55},
              "tickOpacity":{"condition":{"test":"round(datum.value*1000)%20==0","value":1},"value":0}}},
            "y2":{"field":"hi"}}},
        {"mark":{"type":"line","strokeWidth":1.5},"encoding":{"y":{"field":"v","type":"quantitative","title":null}}},
        {"mark":{"type":"errorbar","ticks":{"size":5},"thickness":1.4},"encoding":{"y":{"field":"lo","type":"quantitative","title":null},"y2":{"field":"hi"}}}
       ]}},
     {"width":43,"height":130,"data":{"values":[{"lab":"P̂(Sₙ ⊄ S⁎)"}]},
      "layer":[
       {"mark":{"type":"rect","fill":"white","stroke":"#333333","strokeWidth":1.1},"encoding":{}},
       {"mark":{"type":"text","angle":90,"fontSize":17.5,"color":"#1A1A1A","font":"Liberation Sans"},"encoding":{"text":{"field":"lab","type":"nominal"}}}
      ]}
    ]}
  ]}
]
}
